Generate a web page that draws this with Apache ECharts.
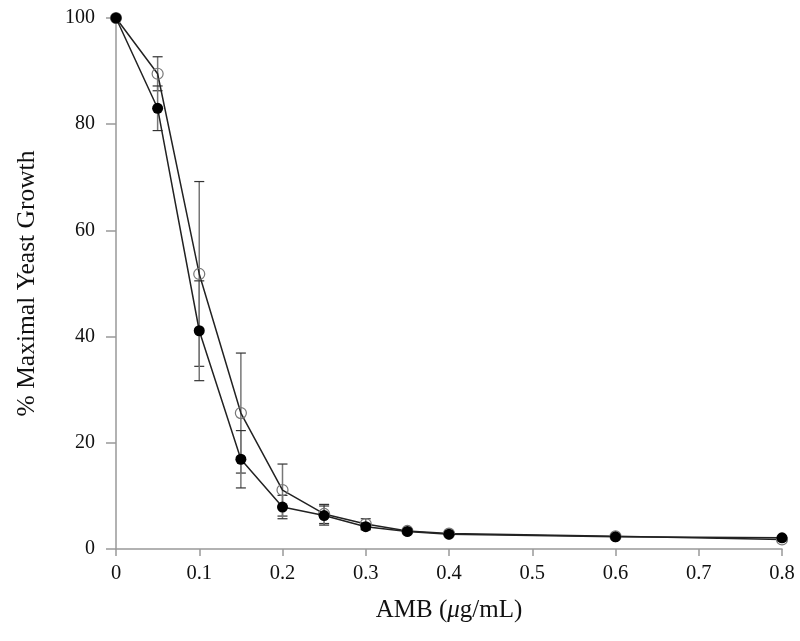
<!DOCTYPE html>
<html>
<head>
<meta charset="utf-8">
<script src="https://cdn.jsdelivr.net/npm/echarts@6/dist/echarts.min.js"></script>
<style>html,body{margin:0;padding:0;background:#fff}#c{width:800px;height:641px}</style>
</head>
<body>
<div id="c"></div>
<script>
var concentrations = [0, 0.05, 0.1, 0.15, 0.2, 0.25, 0.3, 0.35, 0.4, 0.6, 0.8];
var openMean  = [100, 89.5, 51.8, 25.6, 11.1, 6.6, 4.7, 3.4, 2.9, 2.4, 1.8];
var openErr   = [0, 3.2, 17.4, 11.3, 4.9, 1.8, 1.0, 0.4, 0.3, 0.2, 0.3];
var filledMean = [100, 83.0, 41.1, 16.9, 7.9, 6.3, 4.2, 3.3, 2.8, 2.3, 2.1];
var filledErr  = [0, 4.2, 9.4, 5.4, 2.2, 1.8, 0.6, 0.4, 0.3, 0.2, 0.2];
var xTicks = [0, 0.1, 0.2, 0.3, 0.4, 0.5, 0.6, 0.7, 0.8];
var yTicks = [0, 20, 40, 60, 80, 100];

function pairs(xs, ys) { return xs.map(function (x, i) { return [x, ys[i]]; }); }
function errData(xs, ys, es) {
  var out = [];
  xs.forEach(function (x, i) { if (es[i] > 0) out.push([x, ys[i] - es[i], ys[i] + es[i]]); });
  return out;
}
function renderErr(params, api) {
  var x = api.value(0);
  var lo = api.coord([x, api.value(1)]);
  var hi = api.coord([x, api.value(2)]);
  var hw = 5;
  return {
    type: 'group',
    children: [
      { type: 'line', shape: { x1: lo[0], y1: lo[1], x2: hi[0], y2: hi[1] }, style: { stroke: '#777', lineWidth: 1.5 } },
      { type: 'line', shape: { x1: lo[0] - hw, y1: lo[1], x2: lo[0] + hw, y2: lo[1] }, style: { stroke: '#333', lineWidth: 1.2 } },
      { type: 'line', shape: { x1: hi[0] - hw, y1: hi[1], x2: hi[0] + hw, y2: hi[1] }, style: { stroke: '#333', lineWidth: 1.2 } }
    ]
  };
}

var chart = echarts.init(document.getElementById('c'), null, { renderer: 'canvas' });
var font = '"Liberation Serif", "DejaVu Serif", serif';
chart.setOption({
  animation: false,
  backgroundColor: '#fff',
  grid: { left: 116, right: 18, top: 18, bottom: 92 },
  xAxis: {
    type: 'value', min: 0, max: 0.8, interval: 0.1,
    name: '{n|AMB (}{i|μ}{n|g/mL)}', nameLocation: 'middle', nameGap: 49,
    nameTextStyle: { rich: {
      n: { fontFamily: font, fontSize: 25, color: '#111' },
      i: { fontFamily: font, fontSize: 25, fontStyle: 'italic', color: '#111' }
    } },
    axisLine: { show: true, lineStyle: { color: '#999', width: 1.5 } },
    axisTick: { show: true, inside: false, length: 7, lineStyle: { color: '#999', width: 1.5 } },
    axisLabel: { fontFamily: font, fontSize: 20.5, color: '#111', margin: 14,
      formatter: function (v) { return xTicks.indexOf(Math.round(v * 10) / 10) >= 0 ? String(Math.round(v * 10) / 10) : ''; } },
    splitLine: { show: false }
  },
  yAxis: {
    type: 'value', min: 0, max: 100, interval: 20,
    name: '% Maximal Yeast Growth', nameLocation: 'middle', nameGap: 76,
    nameTextStyle: { fontFamily: font, fontSize: 25.5, color: '#111' },
    axisLine: { show: true, lineStyle: { color: '#999', width: 1.5 } },
    axisTick: { show: true, inside: false, length: 10, lineStyle: { color: '#999', width: 1.5 } },
    axisLabel: { fontFamily: font, fontSize: 20, color: '#111', margin: 21,
      formatter: function (v) { return yTicks.indexOf(v) >= 0 ? String(v) : ''; } },
    splitLine: { show: false }
  },
  series: [
    { type: 'line', name: 'open', data: pairs(concentrations, openMean), symbol: 'circle', symbolSize: 11,
      lineStyle: { color: '#222', width: 1.5 },
      itemStyle: { color: 'rgba(255,255,255,0)', borderColor: '#777', borderWidth: 1.2 }, z: 3 },
    { type: 'line', name: 'filled', data: pairs(concentrations, filledMean), symbol: 'circle', symbolSize: 11,
      lineStyle: { color: '#222', width: 1.5 },
      itemStyle: { color: '#000', borderColor: '#000', borderWidth: 0 }, z: 4 },
    { type: 'custom', name: 'openErr', renderItem: renderErr, data: errData(concentrations, openMean, openErr), z: 2 },
    { type: 'custom', name: 'filledErr', renderItem: renderErr, data: errData(concentrations, filledMean, filledErr), z: 2 }
  ]
});
</script>
</body>
</html>
